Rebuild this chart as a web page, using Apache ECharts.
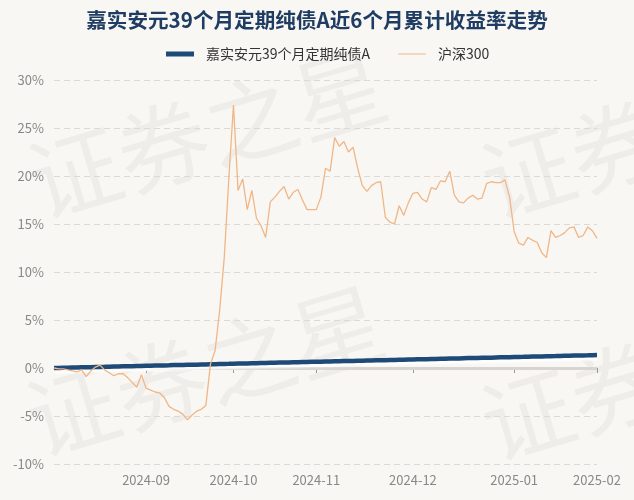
<!DOCTYPE html>
<html>
<head>
<meta charset="utf-8">
<script src="https://cdn.jsdelivr.net/npm/echarts@6/dist/echarts.min.js"></script>
<style>
html,body{margin:0;padding:0;background:#f9f7f4;}
#c{width:634px;height:500px;}
</style>
</head>
<body>
<div id="c"></div>
<script>
var titleText = '嘉实安元39个月定期纯债A近6个月累计收益率走势';
var fundName = '嘉实安元39个月定期纯债A';
var indexName = '沪深300';

var dates = [
'2024-08-05','2024-08-06','2024-08-07','2024-08-08','2024-08-09','2024-08-12','2024-08-13','2024-08-14','2024-08-15','2024-08-16',
'2024-08-19','2024-08-20','2024-08-21','2024-08-22','2024-08-23','2024-08-26','2024-08-27','2024-08-28','2024-08-29','2024-08-30',
'2024-09-02','2024-09-03','2024-09-04','2024-09-05','2024-09-06','2024-09-09','2024-09-10','2024-09-11','2024-09-12','2024-09-13',
'2024-09-18','2024-09-19','2024-09-20','2024-09-23','2024-09-24','2024-09-25','2024-09-26','2024-09-27','2024-09-30',
'2024-10-08','2024-10-09','2024-10-10','2024-10-11','2024-10-14','2024-10-15','2024-10-16','2024-10-17','2024-10-18',
'2024-10-21','2024-10-22','2024-10-23','2024-10-24','2024-10-25','2024-10-28','2024-10-29','2024-10-30','2024-10-31',
'2024-11-01','2024-11-04','2024-11-05','2024-11-06','2024-11-07','2024-11-08','2024-11-11','2024-11-12','2024-11-13','2024-11-14','2024-11-15',
'2024-11-18','2024-11-19','2024-11-20','2024-11-21','2024-11-22','2024-11-25','2024-11-26','2024-11-27','2024-11-28','2024-11-29',
'2024-12-02','2024-12-03','2024-12-04','2024-12-05','2024-12-06','2024-12-09','2024-12-10','2024-12-11','2024-12-12','2024-12-13',
'2024-12-16','2024-12-17','2024-12-18','2024-12-19','2024-12-20','2024-12-23','2024-12-24','2024-12-25','2024-12-26','2024-12-27',
'2024-12-30','2024-12-31',
'2025-01-02','2025-01-03','2025-01-06','2025-01-07','2025-01-08','2025-01-09','2025-01-10','2025-01-13','2025-01-14','2025-01-15',
'2025-01-16','2025-01-17','2025-01-20','2025-01-21','2025-01-22','2025-01-23','2025-01-24','2025-01-27',
'2025-02-05'
];

var fundValues = [
0.00,0.01,0.02,0.03,0.05,0.06,0.07,0.08,0.09,0.10,
0.11,0.12,0.14,0.15,0.16,0.17,0.18,0.19,0.21,0.22,
0.23,0.24,0.25,0.26,0.27,0.28,0.30,0.31,0.32,0.33,
0.34,0.35,0.36,0.37,0.39,0.40,0.41,0.42,0.43,
0.45,0.46,0.47,0.48,0.49,0.50,0.51,0.52,0.54,
0.55,0.56,0.57,0.58,0.59,0.60,0.62,0.63,0.64,
0.65,0.66,0.67,0.68,0.70,0.71,0.72,0.73,0.74,0.75,0.76,
0.78,0.79,0.80,0.81,0.82,0.83,0.84,0.86,0.87,0.88,
0.89,0.90,0.91,0.92,0.94,0.95,0.96,0.97,0.98,0.99,
1.00,1.02,1.03,1.04,1.05,1.06,1.07,1.08,1.10,1.11,
1.12,1.13,
1.14,1.15,1.16,1.18,1.19,1.20,1.21,1.22,1.23,1.24,
1.26,1.27,1.28,1.29,1.30,1.31,1.32,1.34,
1.35
];

var indexValues = [
0.0,-0.1,-0.1,-0.2,-0.3,-0.4,-0.2,-0.9,-0.3,0.1,
0.3,-0.2,-0.5,-0.8,-0.6,-0.6,-1.0,-1.5,-2.0,-0.7,
-2.1,-2.3,-2.5,-2.6,-3.1,-4.0,-4.3,-4.5,-4.8,-5.4,
-4.9,-4.5,-4.3,-3.9,0.4,1.8,6.0,11.5,19.8,
27.4,18.5,19.7,16.5,18.5,15.6,14.8,13.6,17.3,
17.8,18.4,18.9,17.6,18.3,18.6,17.5,16.5,16.5,
16.5,17.8,20.8,20.5,24.0,23.1,23.6,22.5,23.0,20.8,19.0,
18.4,19.0,19.3,19.4,15.7,15.2,15.0,16.9,15.9,17.2,
18.2,18.3,17.6,17.3,18.8,18.6,19.5,19.4,20.5,18.0,
17.3,17.2,17.7,18.0,17.6,17.7,19.2,19.4,19.3,19.3,
19.6,17.8,
14.2,13.0,12.8,13.6,13.3,13.1,12.0,11.5,14.3,13.6,
13.8,14.1,14.6,14.7,13.6,13.8,14.7,14.3,
13.5
];

var monthStarts = ['2024-09-02','2024-10-08','2024-11-01','2024-12-02','2025-01-02','2025-02-05'];
var tickLabels = ['2024-09','2024-10','2024-11','2024-12','2025-01','2025-02'];

var yMin = -10, yMax = 30, yStep = 5;

var FONT = '"Noto Sans CJK SC", "Noto Sans", sans-serif';
function isMonthStart(i, v) { return monthStarts.indexOf(v) >= 0; }

var wm = '证券之星';
function wmText(x, y) {
  return {
    type: 'text', x: x, y: y, rotation: 0.29, z: -10, silent: true,
    style: { text: wm, x: 0, y: 0, fontSize: 92, fontFamily: FONT, fill: 'rgba(0,0,0,0.038)', align: 'center', verticalAlign: 'middle' }
  };
}

var chart = echarts.init(document.getElementById('c'));
chart.setOption({
  backgroundColor: '#f9f7f4',
  animation: false,
  textStyle: { fontFamily: FONT },
  graphic: [wmText(207, 133), wmText(205, 371), wmText(660, 133), wmText(660, 375)],
  title: {
    text: titleText,
    left: 'center',
    top: 5,
    textStyle: { fontSize: 20.6, fontWeight: 'bold', color: '#1f3c63', fontFamily: FONT }
  },
  legend: {
    top: 42,
    left: 161,
    itemWidth: 28,
    itemHeight: 14,
    itemGap: 28,
    textStyle: { fontSize: 14, color: '#333', fontFamily: FONT, padding: [0, 0, 0, 7] },
    data: [
      { name: fundName, icon: 'path://M0,0 L28,0 L28,5 L0,5 Z' },
      { name: indexName, icon: 'path://M0,0 L28,0 L28,1 L0,1 Z' }
    ]
  },
  grid: { left: 54, right: 37, top: 80, bottom: 36, containLabel: false },
  xAxis: {
    type: 'category',
    boundaryGap: false,
    data: dates,
    axisLine: { lineStyle: { color: '#999', width: 1 } },
    axisTick: { show: true, interval: isMonthStart, length: 5, lineStyle: { color: '#999' } },
    axisLabel: {
      interval: isMonthStart,
      color: '#888',
      fontSize: 13,
      margin: 10,
      formatter: function (v) { var k = monthStarts.indexOf(v); return k >= 0 ? tickLabels[k] : ''; }
    },
    splitLine: { show: false }
  },
  yAxis: {
    type: 'value',
    min: yMin, max: yMax, interval: yStep,
    axisLine: { show: false },
    axisTick: { show: false },
    axisLabel: { color: '#888', fontSize: 13, margin: 10, formatter: '{value}%' },
    splitLine: { lineStyle: { type: [6, 4], color: '#dcdad6', width: 1 } }
  },
  series: [
    {
      name: fundName,
      type: 'line',
      data: fundValues,
      symbol: 'none',
      z: 3,
      lineStyle: { color: '#1e4a78', width: 4.5, shadowColor: 'rgba(255,255,255,0.9)', shadowOffsetY: 3, shadowBlur: 2 },
      itemStyle: { color: '#1e4a78' },
      markLine: {
        silent: true, symbol: 'none', label: { show: false },
        lineStyle: { color: '#d8d5d1', width: 3, type: 'solid' },
        data: [{ yAxis: 0 }],
        z: 1
      }
    },
    {
      name: indexName,
      type: 'line',
      data: indexValues,
      symbol: 'none',
      z: 4,
      lineStyle: { color: '#f0b686', width: 1.3 },
      itemStyle: { color: '#f0b686' }
    }
  ]
});
</script>
</body>
</html>
